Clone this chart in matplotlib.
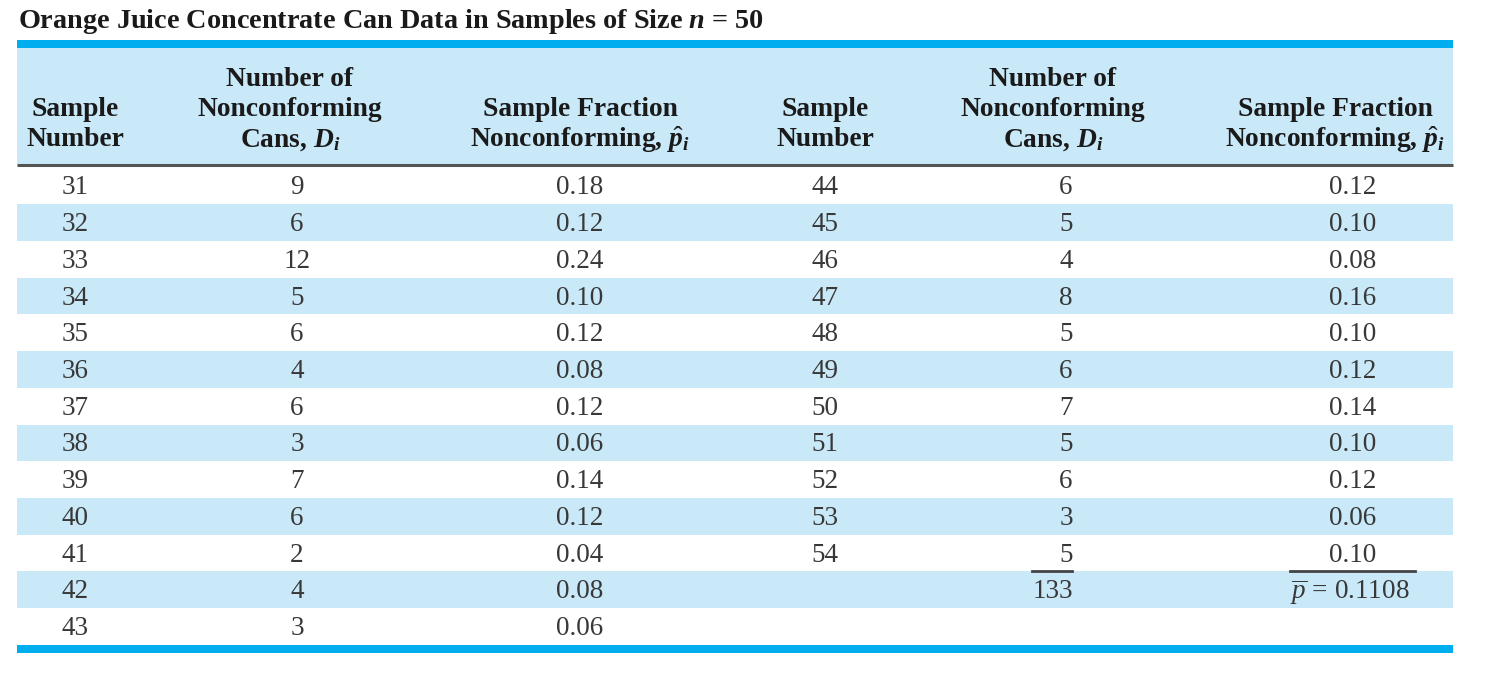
import matplotlib.pyplot as plt
from matplotlib.patches import Rectangle

plt.rcParams['font.family'] = ['Liberation Serif', 'DejaVu Serif']
plt.rcParams['mathtext.fontset'] = 'custom'
plt.rcParams['mathtext.rm'] = 'Liberation Serif'
plt.rcParams['mathtext.it'] = 'Liberation Serif:italic'
plt.rcParams['mathtext.bf'] = 'Liberation Serif:bold'
plt.rcParams['mathtext.bfit'] = 'Liberation Serif:bold:italic'

title = r'Orange Juice Concentrate Can Data in Samples of Size $\mathbfit{n}$ = 50'

# left half of the table
samples_left = [31, 32, 33, 34, 35, 36, 37, 38, 39, 40, 41, 42, 43]
defects_left = [9, 6, 12, 5, 6, 4, 6, 3, 7, 6, 2, 4, 3]
frac_left = [0.18, 0.12, 0.24, 0.10, 0.12, 0.08, 0.12, 0.06, 0.14, 0.12, 0.04, 0.08, 0.06]

# right half of the table
samples_right = [44, 45, 46, 47, 48, 49, 50, 51, 52, 53, 54]
defects_right = [6, 5, 4, 8, 5, 6, 7, 5, 6, 3, 5]
frac_right = [0.12, 0.10, 0.08, 0.16, 0.10, 0.12, 0.14, 0.10, 0.12, 0.06, 0.10]

total_defects = 133
p_bar = 0.1108

headers = [
    ['Sample', 'Number'],
    ['Number of', 'Nonconforming', r'Cans, $\mathbfit{D}_{\mathbfit{i}}$'],
    ['Sample Fraction', r'Nonconforming, $\hat{\mathbfit{p}}_{\mathbfit{i}}$'],
]

blue = '#00aeef'
light = '#c9e9f9'
txt = '#383838'

fig = plt.figure(figsize=(15, 6.79), dpi=100)
ax = fig.add_axes([0, 0, 1, 1])
ax.set_xlim(0, 1500)
ax.set_ylim(679, 0)
ax.axis('off')

x0, x1 = 17, 1453

ax.text(18, 22, title, fontsize=20.3, fontweight='bold', va='center', ha='left', color='#1a1a1a')

# top bar, header fill, rule
ax.add_patch(Rectangle((x0, 40), x1 - x0, 8, color=blue, lw=0))
ax.add_patch(Rectangle((x0, 48), x1 - x0, 116, color=light, lw=0))
ax.plot([x0, x1], [165, 165], color='#555555', lw=2.2, solid_capstyle='butt')

head_cx = [[75, 290, 580], [825, 1053, 1335]]
line_y = {2: [110, 140], 3: [80, 110, 140]}
for half in head_cx:
    for cx, lines in zip(half, headers):
        for y, s in zip(line_y[len(lines)], lines):
            ax.text(cx, y, s, fontsize=19.8, fontweight='bold', ha='center', va='center',
                    color='#1a1a1a')

# body rows
row0, dy = 186, 36.7
n_rows = len(samples_left)
for i in range(n_rows):
    yc = row0 + i * dy
    if i % 2 == 1:
        ax.add_patch(Rectangle((x0, yc - dy / 2), x1 - x0, dy, color=light, lw=0))

fs = 19.5
off = 2
for i, (s, d, p) in enumerate(zip(samples_left, defects_left, frac_left)):
    yc = row0 + i * dy + off
    ax.text(75, yc, str(s), fontsize=fs, ha='center', va='center', color=txt)
    ax.text(297, yc, str(d), fontsize=fs, ha='center', va='center', color=txt)
    ax.text(580, yc, '%.2f' % p, fontsize=fs, ha='center', va='center', color=txt)

for i, (s, d, p) in enumerate(zip(samples_right, defects_right, frac_right)):
    yc = row0 + i * dy + off
    ax.text(825, yc, str(s), fontsize=fs, ha='center', va='center', color=txt)
    ax.text(1066, yc, str(d), fontsize=fs, ha='center', va='center', color=txt)
    ax.text(1353, yc, '%.2f' % p, fontsize=fs, ha='center', va='center', color=txt)

# totals row
yt = row0 + len(samples_right) * dy
ax.plot([1032, 1072], [yt - 19, yt - 19], color='#444444', lw=2)
ax.plot([1290, 1415], [yt - 19, yt - 19], color='#444444', lw=2)
ax.text(1053, yt + off, str(total_defects), fontsize=fs, ha='center', va='center', color=txt)
ax.text(1350, yt + off, r'$\overline{p}$ = %.4f' % p_bar, fontsize=fs, ha='center',
        va='center', color=txt)

# bottom bar
ax.add_patch(Rectangle((x0, 645), x1 - x0, 8, color=blue, lw=0))

fig.savefig('out.png', dpi=100)
